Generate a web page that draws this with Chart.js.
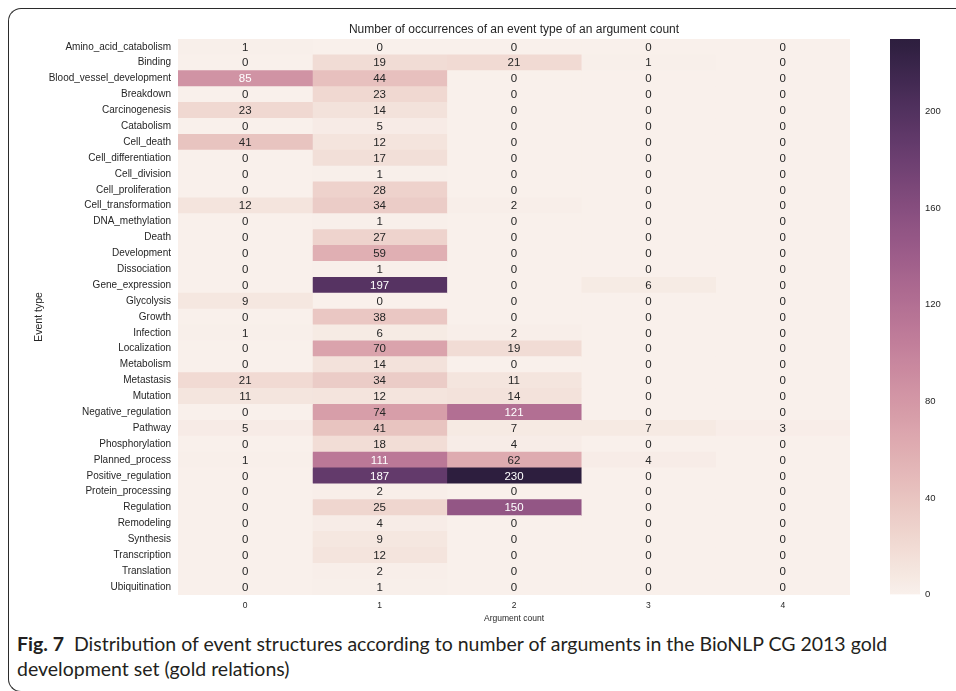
<!DOCTYPE html>
<html>
<head>
<meta charset="utf-8">
<script src="https://cdn.jsdelivr.net/npm/chart.js@4/dist/chart.umd.min.js"></script>
<style>
  html, body { margin: 0; padding: 0; background: #fff; }
  body { width: 956px; height: 691px; position: relative; overflow: hidden; font-family: "Liberation Sans", Arial, sans-serif; }
  #frame { position: absolute; left: 8px; top: 8px; width: 1000px; height: 684px; box-sizing: border-box;
           border: 1.5px solid #2b2b2b; border-right: none; border-radius: 13px 0 0 13px; }
  #heat { position: absolute; left: 0; top: 0; }
  #cbar { position: absolute; left: 870px; top: 0; }
  #caption { position: absolute; left: 17px; top: 631px; white-space: nowrap; font-family: Lato, "Open Sans", sans-serif;
             font-size: 19.5px; line-height: 25px; color: #231f20; }
  #caption b { font-weight: 700; }
</style>
</head>
<body>
<div id="frame"></div>
<canvas id="heat" width="852" height="630"></canvas>
<canvas id="cbar" width="86" height="630"></canvas>
<div id="caption"><b>Fig. 7</b>&nbsp; Distribution of event structures according to number of arguments in the BioNLP CG 2013 gold<br>development set (gold relations)</div>

<script>
// Event types (rows) and argument counts (columns)
const events = [
  'Amino_acid_catabolism', 'Binding', 'Blood_vessel_development', 'Breakdown', 'Carcinogenesis',
  'Catabolism', 'Cell_death', 'Cell_differentiation', 'Cell_division', 'Cell_proliferation',
  'Cell_transformation', 'DNA_methylation', 'Death', 'Development', 'Dissociation',
  'Gene_expression', 'Glycolysis', 'Growth', 'Infection', 'Localization',
  'Metabolism', 'Metastasis', 'Mutation', 'Negative_regulation', 'Pathway',
  'Phosphorylation', 'Planned_process', 'Positive_regulation', 'Protein_processing', 'Regulation',
  'Remodeling', 'Synthesis', 'Transcription', 'Translation', 'Ubiquitination'
];
const argCounts = ['0', '1', '2', '3', '4'];

// Occurrences per event type, one array per argument count
const args0 = [1, 0, 85, 0, 23, 0, 41, 0, 0, 0, 12, 0, 0, 0, 0, 0, 9, 0, 1, 0, 0, 21, 11, 0, 5, 0, 1, 0, 0, 0, 0, 0, 0, 0, 0];
const args1 = [0, 19, 44, 23, 14, 5, 12, 17, 1, 28, 34, 1, 27, 59, 1, 197, 0, 38, 6, 70, 14, 34, 12, 74, 41, 18, 111, 187, 2, 25, 4, 9, 12, 2, 1];
const args2 = [0, 21, 0, 0, 0, 0, 0, 0, 0, 0, 2, 0, 0, 0, 0, 0, 0, 0, 2, 19, 0, 11, 14, 121, 7, 4, 62, 230, 0, 150, 0, 0, 0, 0, 0];
const args3 = [0, 1, 0, 0, 0, 0, 0, 0, 0, 0, 0, 0, 0, 0, 0, 6, 0, 0, 0, 0, 0, 0, 0, 0, 7, 0, 4, 0, 0, 0, 0, 0, 0, 0, 0];
const args4 = [0, 0, 0, 0, 0, 0, 0, 0, 0, 0, 0, 0, 0, 0, 0, 0, 0, 0, 0, 0, 0, 0, 0, 0, 3, 0, 0, 0, 0, 0, 0, 0, 0, 0, 0];
const columns = [args0, args1, args2, args3, args4];

// Colour bar tick labels
const colorbarTicks = [0, 40, 80, 120, 160, 200];

const TITLE = 'Number of occurrences of an event type of an argument count';
const FONT = '"Liberation Sans", Arial, sans-serif';
const DARK_TEXT = 'rgb(38,38,38)';

const vmin = Math.min(...columns.flat());
const vmax = Math.max(...columns.flat());

// cubehelix palette (start 0, rot 0.4, hue 0.8, gamma 1) running from light 0.95 to dark 0.15
function cubehelix(x) {
  const a = 0.8 * x * (1 - x) / 2;
  const phi = 2 * Math.PI * (0.4 * x);
  const c = Math.cos(phi), s = Math.sin(phi);
  const r = x + a * (-0.14861 * c + 1.78277 * s);
  const g = x + a * (-0.29227 * c - 0.90649 * s);
  const b = x + a * (1.97294 * c);
  return [r, g, b].map(v => Math.min(1, Math.max(0, v)));
}
function paletteAt(t) {
  const idx = Math.min(255, Math.max(0, Math.floor(t * 256)));
  return cubehelix(0.95 + (0.15 - 0.95) * idx / 255);
}
function toCss(rgb) {
  return 'rgb(' + rgb.map(v => Math.round(v * 255)).join(',') + ')';
}
function cellColor(v) {
  return toCss(paletteAt((v - vmin) / (vmax - vmin)));
}
function luminance(rgb) {
  const lin = rgb.map(c => c <= 0.03928 ? c / 12.92 : Math.pow((c + 0.055) / 1.055, 2.4));
  return 0.2126 * lin[0] + 0.7152 * lin[1] + 0.0722 * lin[2];
}
function labelColor(v) {
  return luminance(paletteAt((v - vmin) / (vmax - vmin))) > 0.408 ? DARK_TEXT : '#ffffff';
}

// Writes each cell's count at the centre of its bar
const cellLabels = {
  id: 'cellLabels',
  afterDatasetsDraw(chart) {
    const ctx = chart.ctx;
    ctx.save();
    ctx.font = '11.5px ' + FONT;
    ctx.textAlign = 'center';
    ctx.textBaseline = 'middle';
    chart.data.datasets.forEach((ds, di) => {
      const values = columns[di];
      chart.getDatasetMeta(di).data.forEach((el, i) => {
        const p = el.getCenterPoint();
        ctx.fillStyle = labelColor(values[i]);
        ctx.fillText(String(values[i]), p.x, p.y + 0.5);
      });
    });
    ctx.restore();
  }
};

new Chart(document.getElementById('heat'), {
  type: 'bar',
  data: {
    labels: events,
    datasets: columns.map((values, c) => ({
      label: argCounts[c],
      data: values.map(() => [c - 0.5, c + 0.5]),
      backgroundColor: values.map(cellColor),
      borderWidth: 0,
      borderSkipped: false,
      barPercentage: 1,
      categoryPercentage: 1,
      grouped: false
    }))
  },
  options: {
    indexAxis: 'y',
    responsive: false,
    animation: false,
    layout: { padding: { left: 0, right: 2, top: 0, bottom: 0 } },
    plugins: {
      legend: { display: false },
      tooltip: { enabled: false },
      title: {
        display: true, text: TITLE, fullSize: false, color: DARK_TEXT,
        font: { family: FONT, size: 12, weight: 'normal', lineHeight: 1.2 },
        padding: { top: 22, bottom: 2.5 }
      }
    },
    scales: {
      x: {
        type: 'linear', min: -0.5, max: 4.5,
        grid: { display: false, drawTicks: false },
        border: { display: false },
        afterBuildTicks: s => { s.ticks = argCounts.map((_, i) => ({ value: i })); },
        afterFit: s => { s.height = 35; },
        ticks: { callback: v => argCounts[v], font: { family: FONT, size: 8.5 }, color: DARK_TEXT, padding: 6, maxRotation: 0 },
        title: { display: true, text: 'Argument count', color: DARK_TEXT, font: { family: FONT, size: 8.5, lineHeight: 1.2 }, padding: { top: 0, bottom: 6 } }
      },
      y: {
        type: 'category',
        grid: { display: false, drawTicks: false },
        border: { display: false },
        afterFit: s => { s.width = 178; },
        ticks: { autoSkip: false, font: { family: FONT, size: 10 }, color: DARK_TEXT, padding: 7 },
        title: { display: true, text: 'Event type', color: DARK_TEXT, font: { family: FONT, size: 10.5, lineHeight: 1.2 }, padding: { top: 33, bottom: 0 } }
      }
    }
  },
  plugins: [cellLabels]
});

// Colour bar: one floating bar spanning the value range, filled with the palette
new Chart(document.getElementById('cbar'), {
  type: 'bar',
  data: {
    labels: [''],
    datasets: [{
      data: [[vmin, vmax]],
      backgroundColor: (context) => {
        const chart = context.chart;
        if (!chart.chartArea) return cellColor(vmin);
        const ys = chart.scales.y;
        const g = chart.ctx.createLinearGradient(0, ys.getPixelForValue(vmin), 0, ys.getPixelForValue(vmax));
        const steps = 64;
        for (let k = 0; k <= steps; k++) g.addColorStop(k / steps, toCss(paletteAt(Math.min(k / steps, 0.9999))));
        return g;
      },
      borderWidth: 0,
      barPercentage: 1,
      categoryPercentage: 1
    }]
  },
  options: {
    responsive: false,
    animation: false,
    layout: { padding: { left: 20, right: 0, top: 39, bottom: 35.5 } },
    plugins: { legend: { display: false }, tooltip: { enabled: false } },
    scales: {
      x: { display: false },
      y: {
        position: 'right', min: vmin, max: vmax,
        grid: { display: false, drawTicks: false },
        border: { display: false },
        afterBuildTicks: s => { s.ticks = colorbarTicks.map(v => ({ value: v })); },
        afterFit: s => { s.width = 36; },
        ticks: { font: { family: FONT, size: 9.5 }, color: DARK_TEXT, padding: 5 }
      }
    }
  }
});
</script>
</body>
</html>
